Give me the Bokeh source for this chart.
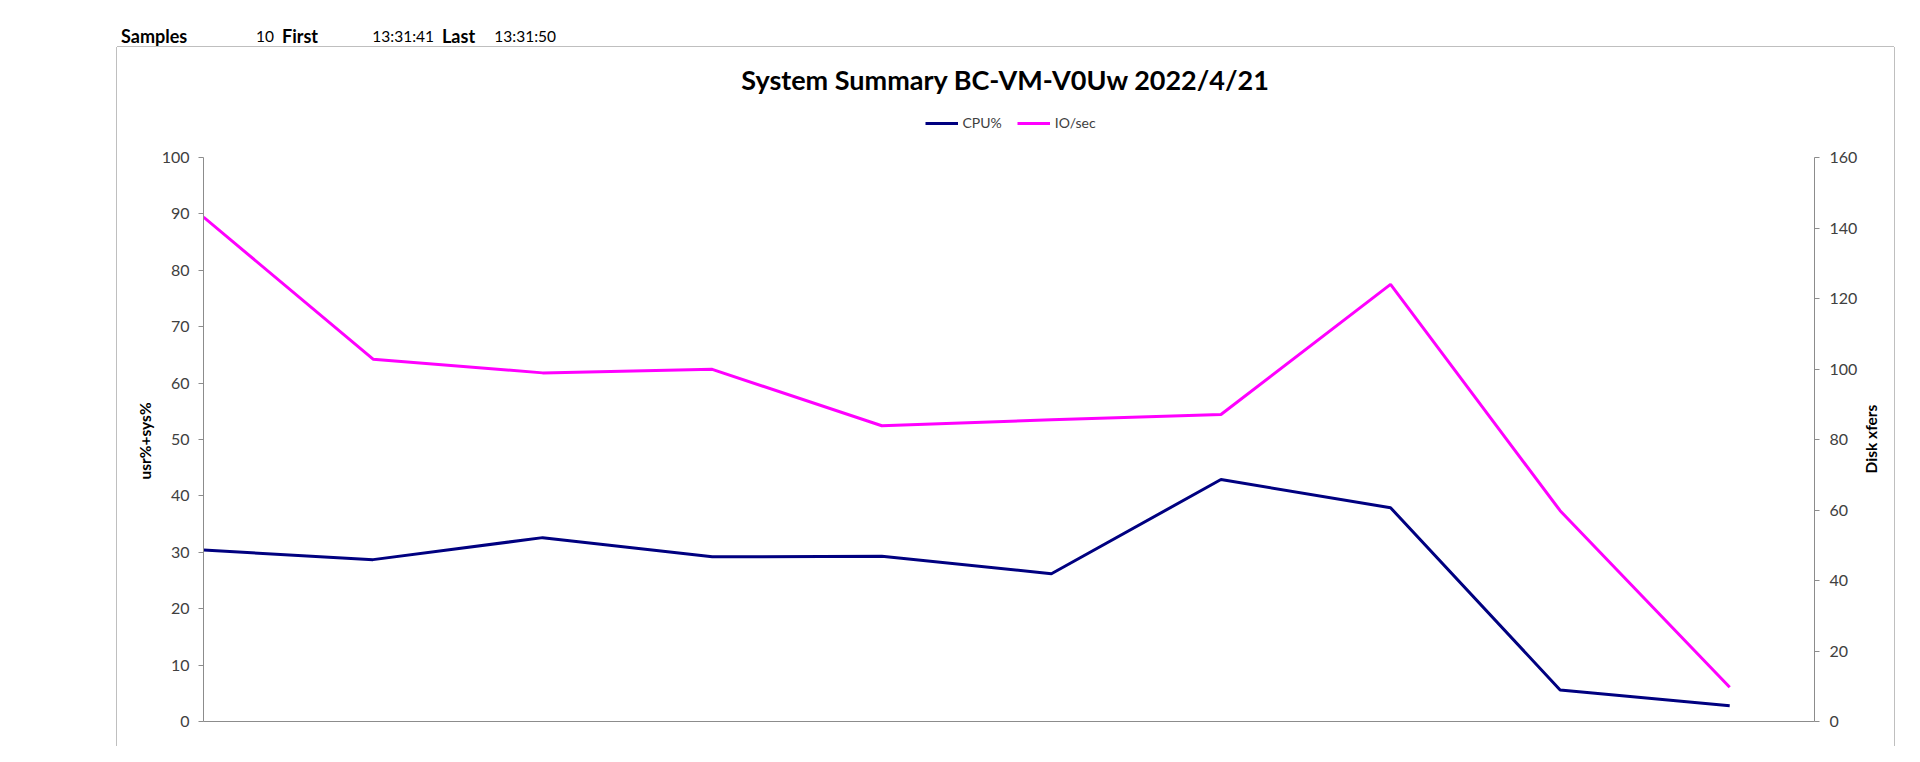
from bokeh.plotting import figure
from bokeh.layouts import column, row
from bokeh.models import (Range1d, LinearAxis, FixedTicker, Legend, LegendItem, Label,
                          Div, Spacer)
from bokeh.embed import file_html
from bokeh.resources import INLINE

# ---- data ----
times = ["13:31:41", "13:31:42", "13:31:43", "13:31:44", "13:31:45",
         "13:31:46", "13:31:47", "13:31:48", "13:31:49", "13:31:50"]
cpu_pct = [30.4, 28.7, 32.6, 29.2, 29.3, 26.2, 42.9, 37.9, 5.6, 2.8]
io_per_sec = [143.1, 102.8, 98.9, 99.9, 83.9, 85.6, 87.1, 124.0, 59.8, 9.7]
cpu_ticks = [0, 10, 20, 30, 40, 50, 60, 70, 80, 90, 100]
io_ticks = [0, 20, 40, 60, 80, 100, 120, 140, 160]
title_text = "System Summary BC-VM-V0Uw  2022/4/21"
series_names = ["CPU%", "IO/sec"]
axis_names = ["usr%+sys%", "Disk xfers"]

FONT = "Lato"
TICK_COLOR = "#404040"
AXIS_COLOR = "#8c8c8c"
BORDER = "#bfbfbf"

# ---- layout (page pixels) ----
W = 1904
HDR_H = 47                    # sheet row-1 strip
MAIN_H = 746 - HDR_H
CHART_LEFT, CHART_RIGHT = 117, 1894   # chart-area border
R_LBL_W = 32                  # strip holding the right axis title
R_LBL_X = 1871                # centre of the right axis title
AX_LEFT, AX_RIGHT = 203, 1814
AX_TOP, AX_BOTTOM = 157, 721  # pixel rows of the top / zero tick
FRAME_TOP = HDR_H
BB = HDR_H + MAIN_H - AX_BOTTOM
FW = AX_RIGHT - AX_LEFT
P_RIGHT = CHART_RIGHT - R_LBL_W
stretch = (AX_BOTTOM - FRAME_TOP) / (AX_BOTTOM - AX_TOP)
PAD_L = "\u00a0" * 30         # keeps the left axis title centred on the tick span

# ---------- header strip (row 1 of the sheet) ----------
hdr_cells = [("Samples", True, 121, 200, "left"),
             (str(len(times)), False, 200, 274, "right"),
             ("First", True, 282, 360, "left"),
             (times[0], False, 360, 434, "right"),
             ("Last", True, 442, 480, "left"),
             (times[-1], False, 480, 556, "right")]
spans = []
prev = 0
for txt, bold, start, end, align in hdr_cells:
    fs = "18px" if bold else "15.5px"
    fw = "bold" if bold else "normal"
    spans.append(f'<span style="flex:none;display:inline-block;margin-left:{start - prev}px;'
                 f'width:{end - start}px;text-align:{align};font-weight:{fw};'
                 f'font-size:{fs}">{txt}</span>')
    prev = end
hdr = Div(text='<div style="display:flex;align-items:center;font-family:Lato;'
               'line-height:20px;height:20px;margin-top:26px;white-space:nowrap;color:black">'
               + "".join(spans) + "</div>",
          width=W, height=HDR_H, margin=0)

# ---------- main chart ----------
x = list(range(len(times)))
p = figure(width=P_RIGHT - CHART_LEFT, height=MAIN_H, output_backend="svg",
           toolbar_location=None,
           x_range=Range1d(0, len(times) - 0.5),
           y_range=Range1d(cpu_ticks[0], cpu_ticks[-1] * stretch),
           min_border_left=AX_LEFT - CHART_LEFT, min_border_right=P_RIGHT - AX_RIGHT,
           min_border_top=0, min_border_bottom=BB,
           background_fill_color="white", border_fill_color="white")
p.styles = {"box-shadow": f"-1px 0 0 0 {BORDER}, 0 -1px 0 0 {BORDER}"}
p.extra_y_ranges = {"io": Range1d(io_ticks[0], io_ticks[-1] * stretch)}
p.outline_line_color = None
p.grid.visible = False

r_cpu = p.line(x, cpu_pct, line_color="#000080", line_width=3)
r_io = p.line(x, io_per_sec, line_color="#FF00FF", line_width=3, y_range_name="io")

# x axis: line only (its labels are off-screen in the reference)
p.xaxis.ticker = FixedTicker(ticks=[])
p.xaxis.major_tick_line_color = None
p.xaxis.minor_tick_line_color = None
p.xaxis.axis_line_color = AXIS_COLOR

# left axis
ly = p.yaxis[0]
ly.ticker = FixedTicker(ticks=cpu_ticks)
ly.bounds = (cpu_ticks[0], cpu_ticks[-1])
ly.axis_label = axis_names[0] + PAD_L
ly.axis_label_text_font = FONT
ly.axis_label_text_font_size = "15.5px"
ly.axis_label_text_font_style = "bold"
ly.axis_label_text_color = "black"
ly.axis_label_standoff = 5
ly.major_label_text_font = FONT
ly.major_label_text_font_size = "16px"
ly.major_label_text_color = TICK_COLOR
ly.major_label_standoff = 9
ly.axis_line_color = AXIS_COLOR
ly.major_tick_line_color = AXIS_COLOR
ly.major_tick_out = 5
ly.major_tick_in = 0
ly.minor_tick_line_color = None

# right axis (its title is drawn in the strip beside the plot)
ry = LinearAxis(y_range_name="io", ticker=FixedTicker(ticks=io_ticks),
                bounds=(io_ticks[0], io_ticks[-1]))
ry.major_label_text_font = FONT
ry.major_label_text_font_size = "16px"
ry.major_label_text_color = TICK_COLOR
ry.major_label_standoff = 10
ry.axis_line_color = AXIS_COLOR
ry.major_tick_line_color = AXIS_COLOR
ry.major_tick_out = 5
ry.major_tick_in = 0
ry.minor_tick_line_color = None
p.add_layout(ry, "right")

# title (frame-relative screen position, y measured up from the zero line)
p.add_layout(Label(x=FW / 2, y=AX_BOTTOM - 78.5, x_units="screen", y_units="screen",
                   text=title_text, text_font=FONT, text_font_size="27px",
                   text_font_style="bold", text_align="center",
                   text_baseline="middle", text_color="black"))

# legend above the axes
legend = Legend(items=[LegendItem(label=series_names[0], renderers=[r_cpu]),
                       LegendItem(label=series_names[1], renderers=[r_io])],
                orientation="horizontal",
                location=(FW / 2 - 84, AX_BOTTOM - 118 - 13),
                border_line_color=None, background_fill_alpha=0,
                glyph_width=33, glyph_height=16, spacing=15, label_standoff=5,
                label_text_font=FONT, label_text_font_size="14px",
                label_text_color=TICK_COLOR, padding=4, margin=0)
p.add_layout(legend, "center")

# right axis title, reading bottom-to-top and centred on the tick span
rtitle = Div(text=f'<div style="position:relative;width:{R_LBL_W}px;height:{MAIN_H}px;">'
                  f'<div style="position:absolute;left:{R_LBL_X - P_RIGHT}px;'
                  f'top:{(AX_TOP + AX_BOTTOM) / 2 - HDR_H}px;'
                  'transform:translate(-50%,-50%) rotate(-90deg);white-space:nowrap;'
                  'font-family:Lato;font-weight:bold;font-size:15.5px;line-height:18px;'
                  f'color:black">{axis_names[1]}</div></div>',
             width=R_LBL_W, height=MAIN_H, margin=0,
             styles={"box-shadow": f"1px 0 0 0 {BORDER}, 0 -1px 0 0 {BORDER}",
                     "background-color": "white"})

page = column(hdr, row(Spacer(width=CHART_LEFT, height=MAIN_H), p, rtitle, spacing=0),
              spacing=0)
open("out.html", "w").write(file_html(page, INLINE))
